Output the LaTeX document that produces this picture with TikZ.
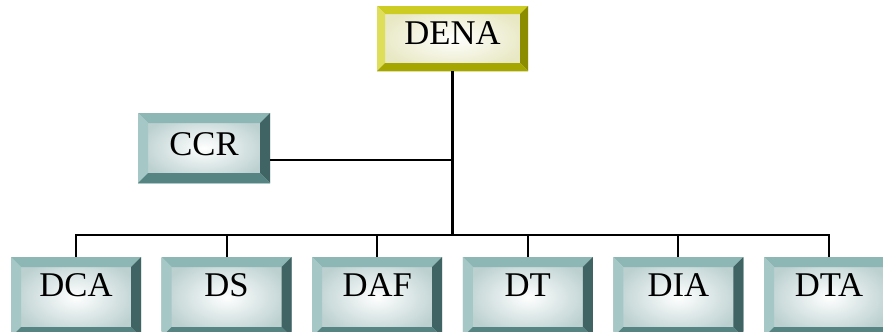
\documentclass[tikz,border=0pt]{standalone}
\usepackage{fontspec}
\setmainfont{Liberation Serif}
\usetikzlibrary{positioning}

\definecolor{tealtop}{RGB}{141,183,180}
\definecolor{tealleft}{RGB}{165,200,198}
\definecolor{tealright}{RGB}{64,100,99}
\definecolor{tealbot}{RGB}{86,132,130}
\definecolor{tealface}{RGB}{188,208,208}
\definecolor{goldtop}{RGB}{204,204,34}
\definecolor{goldleft}{RGB}{222,222,90}
\definecolor{goldright}{RGB}{140,140,0}
\definecolor{goldbot}{RGB}{166,166,0}
\definecolor{goldface}{RGB}{232,232,196}

% four bevel faces: top, left, right, bottom, width
\newcommand\bevelpic[5]{%
	\fill[#1] (path picture bounding box.north west) -- (path picture bounding box.north east) -- ([shift={(-#5,-#5)}]path picture bounding box.north east) -- ([shift={(#5,-#5)}]path picture bounding box.north west) -- cycle;
	\fill[#2] (path picture bounding box.north west) -- ([shift={(#5,-#5)}]path picture bounding box.north west) -- ([shift={(#5,#5)}]path picture bounding box.south west) -- (path picture bounding box.south west) -- cycle;
	\fill[#3] (path picture bounding box.north east) -- (path picture bounding box.south east) -- ([shift={(-#5,#5)}]path picture bounding box.south east) -- ([shift={(-#5,-#5)}]path picture bounding box.north east) -- cycle;
	\fill[#4] (path picture bounding box.south west) -- (path picture bounding box.south east) -- ([shift={(-#5,#5)}]path picture bounding box.south east) -- ([shift={(#5,#5)}]path picture bounding box.south west) -- cycle;
}

\tikzset{
	unit/.style={rectangle, inner sep=0pt, outer sep=0pt, font=\fontsize{26}{30}\selectfont, text height=17.25pt},
	head/.style={unit, minimum width=113.25pt, minimum height=48.75pt, text depth=7.5pt, inner color=white, outer color=goldface, path picture={\bevelpic{goldtop}{goldleft}{goldright}{goldbot}{6pt}}},
	council/.style={unit, minimum width=99pt, minimum height=52.5pt, text depth=6.75pt, inner color=white, outer color=tealface, path picture={\bevelpic{tealtop}{tealleft}{tealright}{tealbot}{7.5pt}}},
	dept/.style={unit, minimum width=97.5pt, minimum height=60pt, text depth=18pt, inner color=white, outer color=tealface, path picture={\bevelpic{tealtop}{tealleft}{tealright}{tealbot}{7.5pt}}},
	link/.style={line width=1.4pt},
	trunk/.style={line width=2.3pt},
}

\begin{document}
\begin{tikzpicture}[x=0.75pt, y=-0.75pt]
	\useasboundingbox (0,0) rectangle (883,332);
	\clip (0,0) rectangle (883,332);
	
	\node (dena) [head] at (452.5,38.5) {DENA};
	\node (ccr) [council] at (204,148) {CCR};
	
	\node (dca) [dept] at (76,297) {DCA};
	\node (ds) [dept, right=15.45pt of dca] {DS};
	\node (daf) [dept, right=15.45pt of ds] {DAF};
	\node (dt) [dept, right=15.45pt of daf] {DT};
	\node (dia) [dept, right=15.45pt of dt] {DIA};
	\node (dta) [dept, right=15.45pt of dia] {DTA};
	
	\coordinate (bus) at ([yshift=16.5pt]dca.north);
	
	\begin{scope}[link]
		\draw (dca.north) -- (bus) -| (dta.north);
		\foreach \n in {ds,daf,dt,dia}
			\draw (\n.north) -- (\n.north |- bus);
		\draw ([yshift=-9pt]ccr.east) -- ([yshift=-9pt]ccr.east -| dena.south);
	\end{scope}
	\draw [trunk] (dena.south) -- (dena.south |- bus);
	
\end{tikzpicture}
\end{document}
